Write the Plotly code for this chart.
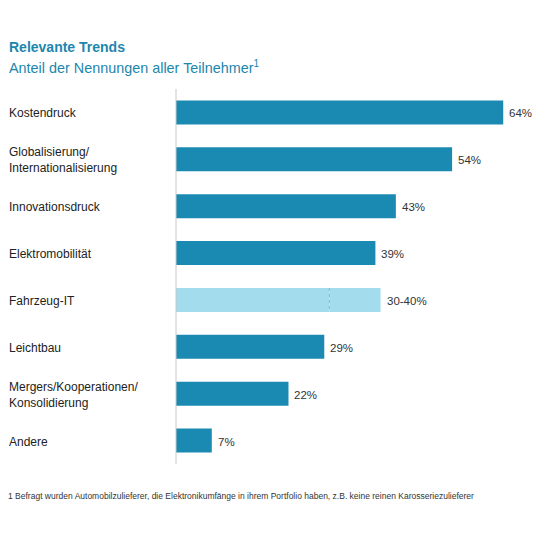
import plotly.graph_objects as go

# data
categories = ["Kostendruck", "Globalisierung/<br>Internationalisierung", "Innovationsdruck",
              "Elektromobilität", "Fahrzeug-IT", "Leichtbau",
              "Mergers/Kooperationen/<br>Konsolidierung", "Andere"]
values = [64, 54, 43, 39, 30, 29, 22, 7]
range_top = [None, None, None, None, 40, None, None, None]  # Fahrzeug-IT is a 30-40% range
labels = ["64%", "54%", "43%", "39%", "30-40%", "29%", "22%", "7%"]

dark = "#1b8ab3"
light = "#a3dcec"
idx = list(range(len(categories)))
colors = [light if t is not None else dark for t in range_top]

fig = go.Figure()
fig.add_trace(go.Bar(x=values, y=idx, orientation="h", marker_color=colors,
                     marker_line_width=0, width=0.51, hoverinfo="skip"))
# upper part of the range bar
ext = [(t - v) if t is not None else 0 for v, t in zip(values, range_top)]
fig.add_trace(go.Bar(x=ext, y=idx, base=values, orientation="h", marker_color=light,
                     marker_line_width=0, width=0.51, hoverinfo="skip"))

for i, v, t, lab in zip(idx, values, range_top, labels):
    end = t if t is not None else v
    fig.add_annotation(x=end, y=i, text=lab, xanchor="left", xshift=4, yshift=-1,
                       showarrow=False, font=dict(size=11.5, color="#333333"))
    if t is not None:
        # dashed divider where the lower bound of the range sits
        fig.add_shape(type="line", x0=v, x1=v, y0=i - 0.255, y1=i + 0.255,
                      line=dict(color="#7cbfd6", width=1, dash="dot"))

for i, c in zip(idx, categories):
    fig.add_annotation(x=0, xref="paper", y=i, text=c, xanchor="left", xshift=-169, yshift=-1,
                       align="left", showarrow=False, font=dict(size=12, color="#222222"))

fig.add_annotation(x=0, xref="paper", y=1, yref="paper", yshift=32, xshift=-169,
                   xanchor="left", yanchor="bottom", showarrow=False,
                   text="<b>Relevante Trends</b>", font=dict(size=14, color="#1d86ad"))
fig.add_annotation(x=0, xref="paper", y=1, yref="paper", yshift=11, xshift=-169,
                   xanchor="left", yanchor="bottom", showarrow=False,
                   text="Anteil der Nennungen aller Teilnehmer<sup>1</sup>",
                   font=dict(size=14.4, color="#1d86ad"))
fig.add_annotation(x=0, xref="paper", y=0, yref="paper", yshift=-32, xshift=-170,
                   xanchor="left", yanchor="middle", showarrow=False,
                   text="1 Befragt wurden Automobilzulieferer, die Elektronikumfänge in ihrem Portfolio haben, "
                        "z.B. keine reinen Karosseriezulieferer",
                   font=dict(size=8.5, color="#333333"))

fig.update_layout(
    width=532, height=524,
    margin=dict(l=168, r=2, t=81, b=68),
    barmode="overlay",
    showlegend=False,
    plot_bgcolor="white", paper_bgcolor="white",
    font=dict(family="Liberation Sans, Arial, sans-serif"),
    xaxis=dict(range=[0, 70.8], showgrid=False, zeroline=False, showticklabels=False,
               showline=False, fixedrange=True),
    yaxis=dict(range=[len(categories) - 0.5, -0.5], showgrid=False, zeroline=False,
               showticklabels=False, showline=False, fixedrange=True),
)
fig.add_shape(type="line", xref="paper", yref="paper", x0=0, x1=0, y0=0, y1=1,
              line=dict(color="#c8c8c8", width=1))

fig.write_html("out.html")
